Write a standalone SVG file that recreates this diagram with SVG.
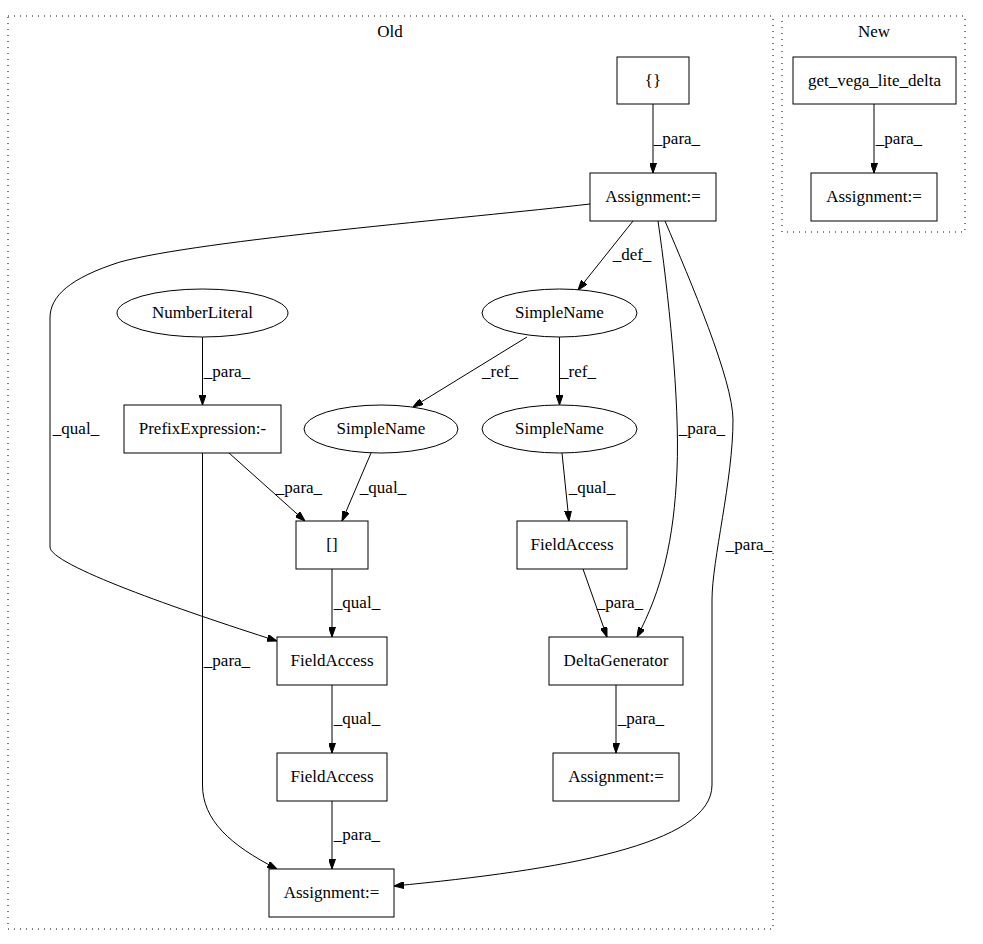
<svg xmlns="http://www.w3.org/2000/svg" width="983" height="944" viewBox="0 0 983 944">
<style>
text{font-family:"Liberation Serif","Times New Roman",serif;font-size:17px;fill:#000;text-anchor:middle}
.n{fill:#fff;stroke:#000;stroke-width:1}
.c{fill:none;stroke:#000;stroke-width:1;stroke-dasharray:1,5}
.e{fill:none;stroke:#000;stroke-width:1;marker-end:url(#ah)}
</style>
<defs>
<marker id="ah" markerUnits="userSpaceOnUse" viewBox="0 0 10 7" refX="10" refY="3.5" markerWidth="10" markerHeight="7" orient="auto">
<polygon points="0,0 10,3.5 0,7" fill="#000" stroke="#000" stroke-width="1"/>
</marker>
</defs>
<rect width="983" height="944" fill="#fff"/>
<g id="cluster_old">
<rect class="c" x="8" y="16" width="765" height="913"/>
<text x="390" y="37">Old</text>
</g>
<g id="cluster_new">
<rect class="c" x="782" y="16" width="183" height="216"/>
<text x="874" y="37">New</text>
</g>
<g id="edges">
<path class="e" d="M653,104 L653,173"/>
<text x="677" y="144">_para_</text>
<path class="e" d="M874,104 L874,173"/>
<text x="899" y="144">_para_</text>
<path class="e" d="M633,221 L578,290"/>
<text x="632" y="260">_def_</text>
<path class="e" d="M590,204 C470,218 200,240 120,262 C70,278 50,296 50,318 L50,547 C50,565 180,610 277,641"/>
<text x="76" y="434">_qual_</text>
<path class="e" d="M658,221 C668,290 680,400 677,470 C674,540 662,590 637,637"/>
<text x="702" y="434">_para_</text>
<path class="e" d="M665,221 C690,280 733,380 733,420 C733,480 712,560 712,600 L712,785 C712,845 560,870 394,886"/>
<text x="749" y="550">_para_</text>
<path class="e" d="M527,337 L413,407"/>
<text x="500" y="377">_ref_</text>
<path class="e" d="M559.5,337 L559.5,405"/>
<text x="578" y="377">_ref_</text>
<path class="e" d="M202.5,337 L202.5,405"/>
<text x="227" y="377">_para_</text>
<path class="e" d="M229,453 L305,521"/>
<text x="299" y="493">_para_</text>
<path class="e" d="M371,453 L342,521"/>
<text x="383" y="493">_qual_</text>
<path class="e" d="M202.5,453 L202.5,785 C202.5,820 230,845 277,869"/>
<text x="227" y="666">_para_</text>
<path class="e" d="M562,453 L569,521"/>
<text x="592" y="493">_qual_</text>
<path class="e" d="M332,569 L332,637"/>
<text x="357" y="608">_qual_</text>
<path class="e" d="M332,685 L332,753"/>
<text x="357" y="724">_qual_</text>
<path class="e" d="M332,801 L332,869"/>
<text x="357" y="840">_para_</text>
<path class="e" d="M583,569 L607,637"/>
<text x="620" y="608">_para_</text>
<path class="e" d="M616,685 L616,753"/>
<text x="641" y="724">_para_</text>
</g>
<g id="n_braces"><rect class="n" x="617" y="57" width="72" height="47"/><text x="653" y="86">{}</text></g>
<g id="n_getvega"><rect class="n" x="793" y="57" width="163" height="47"/><text x="874.5" y="86">get_vega_lite_delta</text></g>
<g id="n_asg_new"><rect class="n" x="811" y="173" width="126" height="48"/><text x="874" y="202">Assignment:=</text></g>
<g id="n_asg_top"><rect class="n" x="590" y="173" width="126" height="48"/><text x="653" y="202">Assignment:=</text></g>
<g id="n_sn_top"><ellipse class="n" cx="559.5" cy="313" rx="77.5" ry="24"/><text x="559.5" y="318">SimpleName</text></g>
<g id="n_numlit"><ellipse class="n" cx="202.5" cy="313" rx="85.5" ry="24"/><text x="202.5" y="318">NumberLiteral</text></g>
<g id="n_prefix"><rect class="n" x="124" y="405" width="157" height="48"/><text x="202.5" y="434">PrefixExpression:-</text></g>
<g id="n_sn_left"><ellipse class="n" cx="381" cy="429" rx="77" ry="24"/><text x="381" y="434">SimpleName</text></g>
<g id="n_sn_right"><ellipse class="n" cx="559.5" cy="429" rx="77.5" ry="24"/><text x="559.5" y="434">SimpleName</text></g>
<g id="n_index"><rect class="n" x="296" y="521" width="72" height="48"/><text x="332" y="550">[]</text></g>
<g id="n_fa_right"><rect class="n" x="517" y="521" width="110" height="48"/><text x="572" y="550">FieldAccess</text></g>
<g id="n_fa_mid"><rect class="n" x="277" y="637" width="110" height="48"/><text x="332" y="666">FieldAccess</text></g>
<g id="n_deltagen"><rect class="n" x="549" y="637" width="134" height="48"/><text x="616" y="666">DeltaGenerator</text></g>
<g id="n_fa_low"><rect class="n" x="277" y="753" width="110" height="48"/><text x="332" y="782">FieldAccess</text></g>
<g id="n_asg_right"><rect class="n" x="553" y="753" width="126" height="48"/><text x="616" y="782">Assignment:=</text></g>
<g id="n_asg_bottom"><rect class="n" x="269" y="869" width="125" height="48"/><text x="331.5" y="898">Assignment:=</text></g>
</svg>
